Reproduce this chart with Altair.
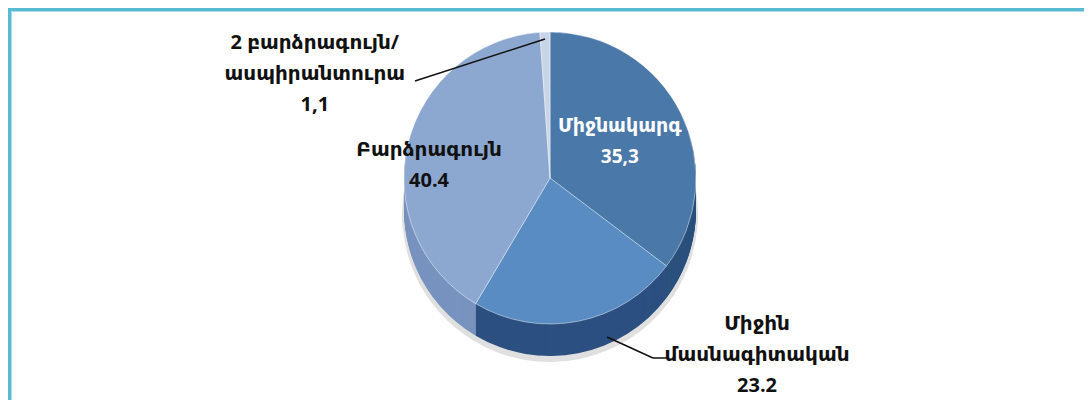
import altair as alt
import pandas as pd

# ---- data ----
categories = ["Միջնակարգ", "Միջին մասնագիտական", "Բարձրագույն", "2 բարձրագույն/ ասպիրանտուրա"]
values = [35.3, 23.2, 40.4, 1.1]
value_labels = ["35,3", "23.2", "40.4", "1,1"]
label_lines = [["Միջնակարգ"], ["Միջին", "մասնագիտական"], ["Բարձրագույն"], ["2 բարձրագույն/", "ասպիրանտուրա"]]

# ---- styling ----
top_colors = ["#4A78A8", "#5A8CC4", "#8DA8D0", "#C9D5E6"]
side_colors = ["#2A507C", "#2C5080", "#7893BF", "#A9BAD3"]
FONT = "'Open Sans', 'DejaVu Sans', sans-serif"

W, H = 1076, 392
CX, CY, R, DEPTH = 542, 170, 146, 32

df = pd.DataFrame({
    "idx": list(range(len(categories))),
    "category": categories,
    "value": values,
    "label": ["\n".join(lines + [v]) for lines, v in zip(label_lines, value_labels)],
    "top": top_colors,
    "side": side_colors,
})

base = alt.Chart(df).encode(
    theta=alt.Theta("value:Q", stack=True, scale=alt.Scale(domain=[0, sum(values)])),
    order=alt.Order("idx:Q"),
    detail="idx:N",
    x=alt.value(CX),
)

layers = []

# soft shadow under the disc
layers.append(
    base.mark_arc(outerRadius=R + 2, opacity=0.12, color="#000000").encode(y=alt.value(CY + DEPTH + 4))
)

# side wall of the disc (stacked darker copies)
for d in range(DEPTH, 0, -1):
    layers.append(
        base.mark_arc(outerRadius=R).encode(
            y=alt.value(CY + d), color=alt.Color("side:N", scale=None)
        )
    )

# top face
layers.append(
    base.mark_arc(outerRadius=R, stroke="#FFFFFF", strokeWidth=1, strokeOpacity=0.45).encode(
        y=alt.value(CY), color=alt.Color("top:N", scale=None)
    )
)


def label(i, radius, dx, dy, color, size=20):
    return base.mark_text(
        radius=radius, dx=dx, dy=dy, font=FONT, fontSize=size, fontWeight="bold",
        color=color, lineBreak="\n", lineHeight=31, align="center", baseline="middle",
    ).encode(
        y=alt.value(CY),
        text=alt.condition(f"datum.idx == {i}", "label:N", alt.value("")),
    )


layers.append(label(0, 88, -9, -13, "#FFFFFF", 19))
layers.append(label(2, 112, -12, -2, "#111111"))
layers.append(label(3, 150, -230, 15, "#111111"))
layers.append(label(1, 150, 178, -1, "#111111"))

one = alt.Chart(pd.DataFrame({"k": [0]}))

# leader lines
layers.append(one.mark_rule(color="#111111", strokeWidth=1.5).encode(
    x=alt.value(407), y=alt.value(73), x2=alt.value(537), y2=alt.value(31)))
layers.append(one.mark_rule(color="#111111", strokeWidth=1.5).encode(
    x=alt.value(599), y=alt.value(329), x2=alt.value(645), y2=alt.value(350)))
layers.append(one.mark_rule(color="#111111", strokeWidth=1.5).encode(
    x=alt.value(645), y=alt.value(350), x2=alt.value(659), y2=alt.value(350)))

# frame
layers.append(one.mark_rect(filled=False, stroke="#57BBD4", strokeWidth=5).encode(
    x=alt.value(0.5), x2=alt.value(W + 20), y=alt.value(0.5), y2=alt.value(H + 20)))
layers.append(one.mark_rect(filled=False, stroke="#A6DCEA", strokeWidth=1).encode(
    x=alt.value(3.5), x2=alt.value(W + 20), y=alt.value(3.5), y2=alt.value(H + 20)))

chart = alt.layer(*layers).properties(
    width=W, height=H, padding=0, autosize=alt.AutoSizeParams(type="none")
).configure_view(stroke=None)

chart.save("out.html", embed_options={"renderer": "svg", "actions": False})
